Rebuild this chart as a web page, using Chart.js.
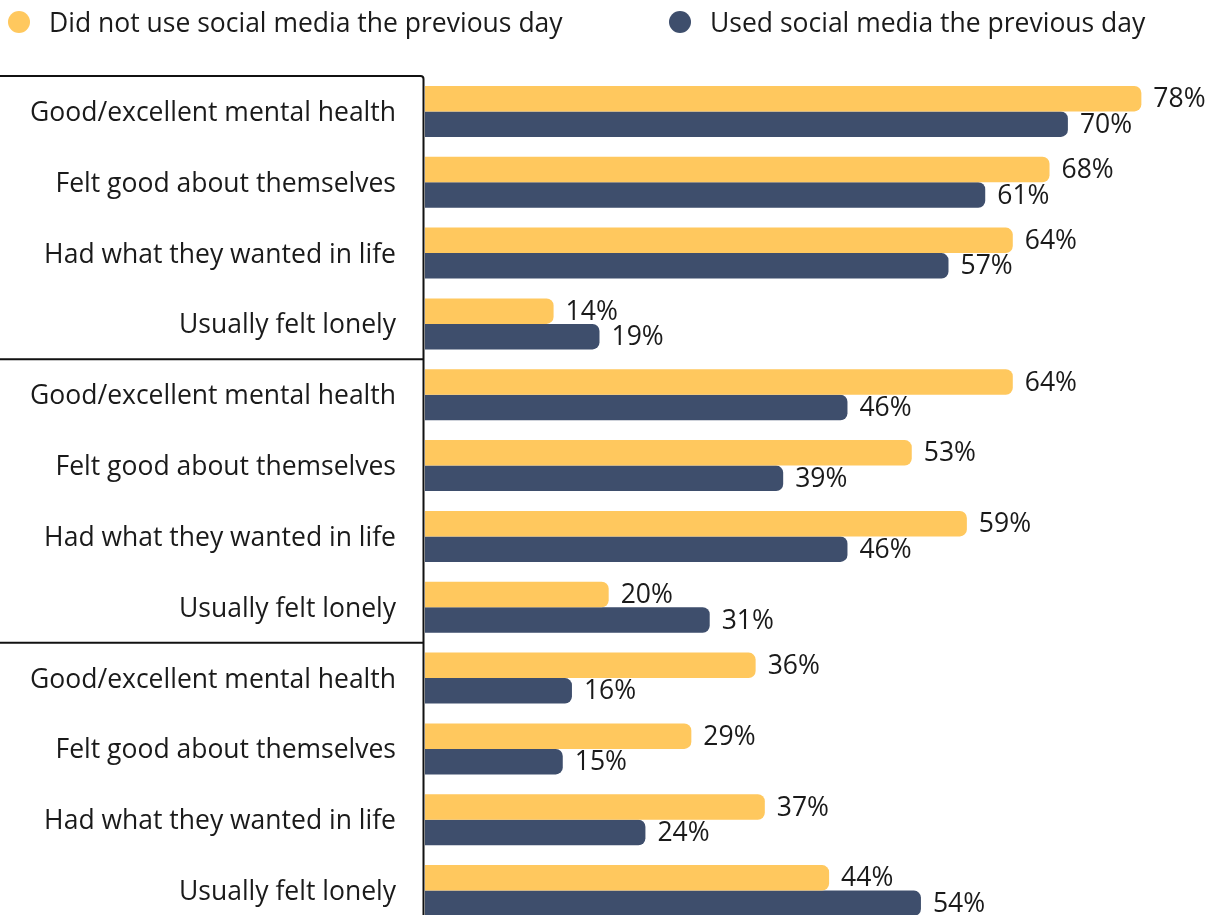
<!DOCTYPE html>
<html>
<head>
<meta charset="utf-8">
<script src="https://cdn.jsdelivr.net/npm/chart.js@4.4.1/dist/chart.umd.min.js"></script>
<style>
  html, body { margin: 0; padding: 0; background: #ffffff; overflow: hidden; }
  #wrap { position: relative; width: 1213px; height: 915px; overflow: hidden; }
  #chart { position: absolute; left: 0; top: 0; }
  .legend { position: absolute; top: 5px; font-family: "Open Sans", sans-serif; font-size: 26.5px; color: #1a1a1a; line-height: 34px; white-space: nowrap; }
  .legend .dot { position: absolute; top: 6px; width: 22px; height: 22px; border-radius: 50%; }
</style>
</head>
<body>
<div id="wrap">
  <canvas id="chart" width="1213" height="926"></canvas>
  <div class="legend" id="leg0" style="left:49px;"><span class="dot" style="left:-41px;"></span><span class="txt"></span></div>
  <div class="legend" id="leg1" style="left:710px;"><span class="dot" style="left:-41px;"></span><span class="txt"></span></div>
</div>
<script>
// Survey measures, repeated for three groups of respondents
const categories = [
  "Good/excellent mental health", "Felt good about themselves", "Had what they wanted in life", "Usually felt lonely",
  "Good/excellent mental health", "Felt good about themselves", "Had what they wanted in life", "Usually felt lonely",
  "Good/excellent mental health", "Felt good about themselves", "Had what they wanted in life", "Usually felt lonely"
];
const groupSizes = [4, 4, 4];

const seriesNames = ["Did not use social media the previous day", "Used social media the previous day"];
const notUsedValues = [78, 68, 64, 14, 64, 53, 59, 20, 36, 29, 37, 44];
const usedValues    = [70, 61, 57, 19, 46, 39, 46, 31, 16, 15, 24, 54];

const seriesColors = ["#FFC85E", "#3E4E6C"];
const textColor = "#1a1a1a";
const fontFamily = "'Open Sans', sans-serif";
const fontSize = 26.5;

// HTML legend built from the series names and colours
[0, 1].forEach(i => {
  const el = document.getElementById("leg" + i);
  el.querySelector(".dot").style.background = seriesColors[i];
  el.querySelector(".txt").textContent = seriesNames[i];
});

// Value labels at the end of each bar
const valueLabels = {
  id: "valueLabels",
  afterDatasetsDraw(chart) {
    const ctx = chart.ctx;
    ctx.save();
    ctx.font = fontSize + "px " + fontFamily;
    ctx.fillStyle = textColor;
    ctx.textAlign = "left";
    ctx.textBaseline = "middle";
    chart.data.datasets.forEach((ds, di) => {
      chart.getDatasetMeta(di).data.forEach((bar, i) => {
        ctx.fillText(ds.data[i] + "%", bar.x + 12, bar.y + 1);
      });
    });
    ctx.restore();
  }
};

// Frame around the category labels with separators between groups
const groupFrame = {
  id: "groupFrame",
  afterDraw(chart) {
    const ctx = chart.ctx;
    const y = chart.scales.y;
    const n = categories.length;
    const step = (y.bottom - y.top) / n;
    const xr = chart.chartArea.left - 1.5;
    const top = y.top;
    const r = 3;
    ctx.save();
    ctx.strokeStyle = "#111111";
    ctx.lineWidth = 2;
    ctx.beginPath();
    ctx.moveTo(0, top);
    ctx.lineTo(xr - r, top);
    ctx.arcTo(xr, top, xr, top + r, r);
    ctx.lineTo(xr, chart.height);
    ctx.stroke();
    let acc = 0;
    groupSizes.slice(0, -1).forEach(sz => {
      acc += sz;
      const yy = top + acc * step;
      ctx.beginPath();
      ctx.moveTo(0, yy);
      ctx.lineTo(xr, yy);
      ctx.stroke();
    });
    ctx.restore();
  }
};

new Chart(document.getElementById("chart"), {
  type: "bar",
  data: {
    labels: categories,
    datasets: [
      { label: seriesNames[0], data: notUsedValues, backgroundColor: seriesColors[0], borderRadius: 7, borderSkipped: "start" },
      { label: seriesNames[1], data: usedValues, backgroundColor: seriesColors[1], borderRadius: 7, borderSkipped: "start" }
    ]
  },
  options: {
    indexAxis: "y",
    responsive: false,
    animation: false,
    layout: { padding: { top: 76, right: 0, bottom: 0, left: 0 } },
    datasets: { bar: { categoryPercentage: 0.72, barPercentage: 1.0 } },
    plugins: { legend: { display: false }, tooltip: { enabled: false } },
    scales: {
      x: { display: false, min: 0, max: 85.8 },
      y: {
        grid: { display: false, drawTicks: false },
        border: { display: false },
        afterFit(scale) {
          scale.width = 425;
          scale.paddingTop = 0;
          scale.paddingBottom = 0;
        },
        ticks: { padding: 29, labelOffset: 2, color: textColor, font: { family: fontFamily, size: fontSize }, autoSkip: false }
      }
    }
  },
  plugins: [valueLabels, groupFrame]
});
</script>
</body>
</html>
